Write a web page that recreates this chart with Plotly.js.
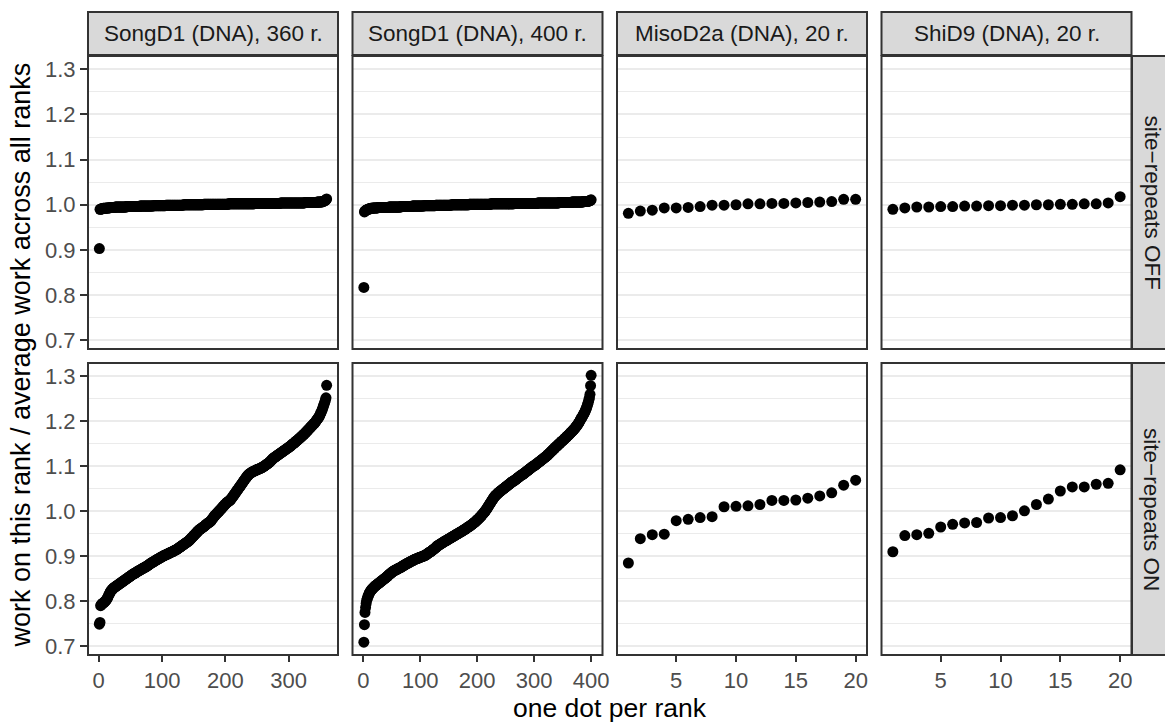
<!DOCTYPE html>
<html>
<head>
<meta charset="utf-8">
<script src="https://cdn.plot.ly/plotly-3.0.1.min.js"></script>
<style>html,body{margin:0;padding:0;background:#fff;}#chart{width:1165px;height:722px;}</style>
</head>
<body>
<div id="chart"></div>
<script>
// ---- data ----
const panelTitles = ["SongD1 (DNA), 360 r.", "SongD1 (DNA), 400 r.", "MisoD2a (DNA), 20 r.", "ShiD9 (DNA), 20 r."];
const rowTitles = ["site\u2212repeats OFF", "site\u2212repeats ON"];
const xTitle = "one dot per rank";
const yTitle = "work on this rank / average work across all ranks";
const xTicks1 = [0, 100, 200, 300];
const xTicks2 = [0, 100, 200, 300, 400];
const xTicks34 = [5, 10, 15, 20];
const yTicks = [0.7, 0.8, 0.9, 1.0, 1.1, 1.2, 1.3];
const yTickText = ["0.7", "0.8", "0.9", "1.0", "1.1", "1.2", "1.3"];

// site-repeats OFF
const songD1_360_off = [
0.903,0.990,0.990,0.991,0.991,0.991,0.992,0.992,0.992,0.992,
0.992,0.993,0.993,0.993,0.993,0.993,0.993,0.994,0.994,0.994,
0.994,0.994,0.994,0.994,0.994,0.995,0.995,0.995,0.995,0.995,
0.995,0.995,0.995,0.995,0.995,0.995,0.995,0.995,0.995,0.995,
0.995,0.995,0.995,0.996,0.996,0.996,0.996,0.996,0.996,0.996,
0.996,0.996,0.996,0.996,0.996,0.996,0.996,0.996,0.996,0.996,
0.996,0.996,0.996,0.996,0.997,0.997,0.997,0.997,0.997,0.997,
0.997,0.997,0.997,0.997,0.997,0.997,0.997,0.997,0.997,0.997,
0.997,0.997,0.997,0.997,0.997,0.998,0.998,0.998,0.998,0.998,
0.998,0.998,0.998,0.998,0.998,0.998,0.998,0.998,0.998,0.998,
0.998,0.998,0.998,0.998,0.998,0.999,0.999,0.999,0.999,0.999,
0.999,0.999,0.999,0.999,0.999,0.999,0.999,0.999,0.999,0.999,
0.999,0.999,0.999,0.999,0.999,0.999,0.999,0.999,0.999,0.999,
0.999,0.999,0.999,1.000,1.000,1.000,1.000,1.000,1.000,1.000,
1.000,1.000,1.000,1.000,1.000,1.000,1.000,1.000,1.000,1.000,
1.000,1.000,1.000,1.000,1.000,1.000,1.000,1.000,1.000,1.000,
1.000,1.000,1.000,1.000,1.000,1.001,1.001,1.001,1.001,1.001,
1.001,1.001,1.001,1.001,1.001,1.001,1.001,1.001,1.001,1.001,
1.001,1.001,1.001,1.001,1.001,1.001,1.001,1.001,1.001,1.001,
1.001,1.001,1.001,1.001,1.001,1.001,1.001,1.001,1.001,1.001,
1.001,1.001,1.001,1.001,1.002,1.002,1.002,1.002,1.002,1.002,
1.002,1.002,1.002,1.002,1.002,1.002,1.002,1.002,1.002,1.002,
1.002,1.002,1.002,1.002,1.002,1.002,1.002,1.002,1.002,1.002,
1.002,1.002,1.002,1.002,1.002,1.002,1.002,1.002,1.002,1.002,
1.002,1.002,1.002,1.002,1.002,1.003,1.003,1.003,1.003,1.003,
1.003,1.003,1.003,1.003,1.003,1.003,1.003,1.003,1.003,1.003,
1.003,1.003,1.003,1.003,1.003,1.003,1.003,1.003,1.003,1.003,
1.003,1.003,1.003,1.003,1.003,1.003,1.003,1.003,1.003,1.003,
1.003,1.003,1.003,1.003,1.003,1.003,1.004,1.004,1.004,1.004,
1.004,1.004,1.004,1.004,1.004,1.004,1.004,1.004,1.004,1.004,
1.004,1.004,1.004,1.004,1.004,1.004,1.004,1.004,1.004,1.004,
1.004,1.004,1.004,1.004,1.004,1.004,1.004,1.004,1.004,1.004,
1.004,1.004,1.004,1.004,1.004,1.005,1.005,1.005,1.005,1.005,
1.005,1.005,1.005,1.005,1.005,1.005,1.005,1.005,1.005,1.005,
1.005,1.005,1.005,1.005,1.006,1.006,1.006,1.006,1.006,1.006,
1.006,1.006,1.007,1.007,1.008,1.008,1.009,1.010,1.011,1.013
];
const songD1_400_off = [
0.817,0.984,0.986,0.987,0.988,0.989,0.989,0.990,0.990,0.991,
0.991,0.991,0.992,0.992,0.992,0.992,0.993,0.993,0.993,0.993,
0.993,0.993,0.993,0.993,0.993,0.994,0.994,0.994,0.994,0.994,
0.994,0.994,0.994,0.994,0.994,0.994,0.994,0.994,0.994,0.994,
0.994,0.994,0.994,0.994,0.995,0.995,0.995,0.995,0.995,0.995,
0.995,0.995,0.995,0.995,0.995,0.995,0.995,0.995,0.995,0.995,
0.995,0.995,0.995,0.995,0.995,0.996,0.996,0.996,0.996,0.996,
0.996,0.996,0.996,0.996,0.996,0.996,0.996,0.996,0.996,0.996,
0.996,0.996,0.996,0.996,0.996,0.997,0.997,0.997,0.997,0.997,
0.997,0.997,0.997,0.997,0.997,0.997,0.997,0.997,0.997,0.997,
0.997,0.997,0.997,0.997,0.997,0.998,0.998,0.998,0.998,0.998,
0.998,0.998,0.998,0.998,0.998,0.998,0.998,0.998,0.998,0.998,
0.998,0.998,0.998,0.998,0.998,0.998,0.999,0.999,0.999,0.999,
0.999,0.999,0.999,0.999,0.999,0.999,0.999,0.999,0.999,0.999,
0.999,0.999,0.999,0.999,0.999,0.999,0.999,0.999,0.999,0.999,
0.999,0.999,0.999,0.999,1.000,1.000,1.000,1.000,1.000,1.000,
1.000,1.000,1.000,1.000,1.000,1.000,1.000,1.000,1.000,1.000,
1.000,1.000,1.000,1.000,1.000,1.000,1.000,1.000,1.000,1.000,
1.000,1.000,1.000,1.000,1.000,1.001,1.001,1.001,1.001,1.001,
1.001,1.001,1.001,1.001,1.001,1.001,1.001,1.001,1.001,1.001,
1.001,1.001,1.001,1.001,1.001,1.001,1.001,1.001,1.001,1.001,
1.001,1.001,1.001,1.001,1.001,1.001,1.001,1.001,1.001,1.001,
1.001,1.001,1.001,1.002,1.002,1.002,1.002,1.002,1.002,1.002,
1.002,1.002,1.002,1.002,1.002,1.002,1.002,1.002,1.002,1.002,
1.002,1.002,1.002,1.002,1.002,1.002,1.002,1.002,1.002,1.002,
1.002,1.002,1.002,1.002,1.002,1.002,1.002,1.002,1.002,1.002,
1.002,1.002,1.002,1.002,1.003,1.003,1.003,1.003,1.003,1.003,
1.003,1.003,1.003,1.003,1.003,1.003,1.003,1.003,1.003,1.003,
1.003,1.003,1.003,1.003,1.003,1.003,1.003,1.003,1.003,1.003,
1.003,1.003,1.003,1.003,1.003,1.003,1.003,1.003,1.003,1.003,
1.003,1.003,1.003,1.003,1.003,1.004,1.004,1.004,1.004,1.004,
1.004,1.004,1.004,1.004,1.004,1.004,1.004,1.004,1.004,1.004,
1.004,1.004,1.004,1.004,1.004,1.004,1.004,1.004,1.004,1.004,
1.004,1.004,1.004,1.004,1.004,1.004,1.004,1.004,1.004,1.004,
1.004,1.004,1.004,1.005,1.005,1.005,1.005,1.005,1.005,1.005,
1.005,1.005,1.005,1.005,1.005,1.005,1.005,1.005,1.005,1.005,
1.005,1.005,1.005,1.005,1.005,1.006,1.006,1.006,1.006,1.006,
1.006,1.006,1.006,1.006,1.006,1.006,1.006,1.006,1.006,1.006,
1.006,1.006,1.006,1.006,1.006,1.007,1.007,1.007,1.007,1.007,
1.007,1.007,1.007,1.008,1.008,1.008,1.009,1.009,1.010,1.011
];
const misoD2a_off = [0.981,0.986,0.988,0.993,0.993,0.994,0.996,0.999,0.999,1.000,1.002,1.002,1.003,1.003,1.004,1.005,1.006,1.007,1.012,1.012];
const shiD9_off = [0.990,0.993,0.995,0.995,0.996,0.996,0.997,0.997,0.998,0.998,0.999,0.999,1.000,1.000,1.001,1.001,1.002,1.002,1.004,1.018];

// site-repeats ON
const songD1_360_on = [
0.749,0.753,0.790,0.792,0.794,0.795,0.796,0.797,0.798,0.800,
0.801,0.803,0.805,0.808,0.811,0.814,0.817,0.820,0.822,0.824,
0.826,0.827,0.829,0.830,0.831,0.832,0.833,0.834,0.835,0.836,
0.837,0.838,0.839,0.840,0.841,0.842,0.843,0.844,0.845,0.846,
0.847,0.848,0.849,0.850,0.851,0.852,0.853,0.854,0.855,0.856,
0.857,0.858,0.859,0.860,0.861,0.862,0.862,0.863,0.864,0.865,
0.866,0.867,0.868,0.868,0.869,0.870,0.871,0.872,0.872,0.873,
0.874,0.875,0.876,0.876,0.877,0.878,0.879,0.880,0.881,0.882,
0.883,0.884,0.885,0.886,0.887,0.887,0.888,0.889,0.890,0.891,
0.892,0.893,0.893,0.894,0.895,0.896,0.897,0.897,0.898,0.899,
0.900,0.901,0.901,0.902,0.903,0.903,0.904,0.905,0.905,0.906,
0.907,0.907,0.908,0.909,0.909,0.910,0.911,0.911,0.912,0.913,
0.914,0.914,0.915,0.916,0.917,0.918,0.919,0.920,0.921,0.922,
0.923,0.924,0.925,0.926,0.927,0.928,0.929,0.930,0.931,0.932,
0.933,0.934,0.935,0.937,0.938,0.940,0.941,0.943,0.944,0.946,
0.947,0.949,0.950,0.952,0.953,0.955,0.956,0.958,0.959,0.960,
0.961,0.962,0.963,0.964,0.965,0.966,0.967,0.968,0.970,0.971,
0.972,0.973,0.974,0.975,0.976,0.977,0.978,0.980,0.982,0.984,
0.986,0.988,0.990,0.991,0.993,0.994,0.996,0.997,0.999,1.000,
1.002,1.003,1.005,1.006,1.008,1.010,1.011,1.013,1.014,1.016,
1.017,1.019,1.020,1.021,1.022,1.023,1.024,1.025,1.027,1.029,
1.031,1.033,1.035,1.037,1.039,1.041,1.043,1.045,1.047,1.049,
1.051,1.053,1.055,1.057,1.059,1.061,1.063,1.065,1.067,1.069,
1.071,1.073,1.075,1.077,1.079,1.080,1.082,1.083,1.084,1.085,
1.086,1.087,1.088,1.088,1.089,1.090,1.090,1.091,1.092,1.092,
1.093,1.093,1.094,1.095,1.095,1.096,1.097,1.097,1.098,1.099,
1.100,1.101,1.102,1.103,1.104,1.105,1.106,1.107,1.108,1.109,
1.111,1.112,1.114,1.115,1.117,1.118,1.119,1.120,1.121,1.122,
1.123,1.124,1.125,1.126,1.127,1.128,1.129,1.130,1.131,1.132,
1.133,1.134,1.135,1.136,1.137,1.138,1.139,1.140,1.141,1.142,
1.143,1.144,1.145,1.146,1.148,1.149,1.150,1.151,1.152,1.153,
1.155,1.156,1.157,1.158,1.159,1.161,1.162,1.163,1.164,1.166,
1.167,1.168,1.170,1.171,1.172,1.174,1.175,1.177,1.178,1.180,
1.181,1.183,1.184,1.186,1.187,1.189,1.190,1.192,1.193,1.195,
1.196,1.198,1.200,1.202,1.204,1.206,1.208,1.210,1.213,1.216,
1.219,1.222,1.226,1.230,1.234,1.238,1.242,1.247,1.252,1.280
];
const songD1_400_on = [
0.709,0.748,0.775,0.786,0.795,0.802,0.806,0.810,0.813,0.816,
0.819,0.821,0.823,0.825,0.826,0.828,0.829,0.830,0.832,0.833,
0.834,0.835,0.836,0.837,0.838,0.839,0.840,0.841,0.842,0.843,
0.844,0.845,0.846,0.847,0.848,0.849,0.850,0.851,0.852,0.853,
0.854,0.855,0.856,0.858,0.859,0.860,0.861,0.862,0.863,0.864,
0.865,0.866,0.867,0.868,0.868,0.869,0.870,0.870,0.871,0.872,
0.872,0.873,0.874,0.874,0.875,0.876,0.876,0.877,0.878,0.879,
0.880,0.880,0.881,0.882,0.883,0.883,0.884,0.885,0.885,0.886,
0.887,0.887,0.888,0.889,0.889,0.890,0.891,0.891,0.892,0.893,
0.893,0.894,0.894,0.895,0.895,0.896,0.896,0.897,0.897,0.898,
0.898,0.899,0.899,0.900,0.900,0.901,0.901,0.902,0.902,0.903,
0.904,0.905,0.906,0.907,0.908,0.909,0.909,0.910,0.911,0.912,
0.913,0.914,0.915,0.916,0.917,0.918,0.919,0.920,0.922,0.923,
0.924,0.924,0.925,0.926,0.927,0.928,0.928,0.929,0.930,0.931,
0.932,0.932,0.933,0.934,0.935,0.935,0.936,0.937,0.938,0.938,
0.939,0.940,0.941,0.941,0.942,0.943,0.944,0.944,0.945,0.946,
0.947,0.947,0.948,0.949,0.950,0.950,0.951,0.952,0.953,0.953,
0.954,0.955,0.956,0.956,0.957,0.958,0.959,0.960,0.960,0.961,
0.962,0.963,0.964,0.965,0.966,0.966,0.967,0.968,0.969,0.970,
0.971,0.972,0.973,0.974,0.975,0.976,0.977,0.978,0.980,0.981,
0.982,0.983,0.984,0.986,0.987,0.988,0.990,0.991,0.993,0.994,
0.996,0.997,0.999,1.000,1.002,1.004,1.006,1.008,1.010,1.012,
1.014,1.016,1.018,1.020,1.022,1.024,1.026,1.028,1.030,1.032,
1.033,1.035,1.036,1.037,1.038,1.040,1.041,1.042,1.043,1.044,
1.045,1.046,1.047,1.048,1.049,1.050,1.051,1.052,1.053,1.054,
1.055,1.056,1.057,1.058,1.059,1.060,1.061,1.062,1.063,1.064,
1.065,1.066,1.067,1.067,1.068,1.069,1.070,1.071,1.072,1.073,
1.074,1.075,1.076,1.077,1.078,1.079,1.080,1.081,1.081,1.082,
1.083,1.084,1.085,1.086,1.087,1.088,1.089,1.090,1.091,1.092,
1.093,1.094,1.095,1.096,1.097,1.098,1.099,1.100,1.101,1.101,
1.102,1.103,1.104,1.105,1.106,1.107,1.108,1.109,1.110,1.111,
1.112,1.113,1.114,1.115,1.116,1.117,1.118,1.119,1.120,1.121,
1.122,1.123,1.124,1.125,1.127,1.128,1.129,1.130,1.132,1.133,
1.134,1.135,1.137,1.138,1.139,1.140,1.142,1.143,1.144,1.145,
1.146,1.148,1.149,1.150,1.151,1.152,1.154,1.155,1.156,1.157,
1.158,1.159,1.161,1.162,1.163,1.164,1.165,1.167,1.168,1.169,
1.170,1.172,1.173,1.174,1.176,1.177,1.178,1.180,1.181,1.182,
1.184,1.185,1.187,1.189,1.190,1.192,1.194,1.196,1.198,1.200,
1.203,1.205,1.207,1.209,1.211,1.214,1.216,1.218,1.221,1.224,
1.227,1.230,1.234,1.238,1.242,1.248,1.252,1.260,1.279,1.302
];
const misoD2a_on = [0.885,0.939,0.948,0.949,0.979,0.982,0.986,0.988,1.010,1.011,1.012,1.015,1.024,1.024,1.025,1.029,1.034,1.041,1.058,1.069];
const shiD9_on = [0.910,0.946,0.948,0.951,0.965,0.971,0.974,0.975,0.985,0.986,0.990,1.001,1.015,1.027,1.045,1.054,1.054,1.060,1.062,1.092];

// ---- layout geometry ----
const W = 1165, H = 722;
const FONT = "Liberation Sans, Arial, Helvetica, sans-serif";
const colPx = [[88, 338], [352.5, 602.5], [617, 867], [881.5, 1131.5]];
const rowPx = [[56, 349], [363, 655]];
const colDom = colPx.map(c => [c[0] / W, c[1] / W]);
const rowDom = rowPx.map(r => [1 - r[1] / H, 1 - r[0] / H]);
const yRange = [0.6805, 1.3295];
const xRanges = [[-16.95, 377.95], [-18.95, 419.95], [0.05, 20.95], [0.05, 20.95]];
const xTickSets = [xTicks1, xTicks2, xTicks34, xTicks34];

const seriesGrid = [
  [songD1_360_off, songD1_400_off, misoD2a_off, shiD9_off],
  [songD1_360_on, songD1_400_on, misoD2a_on, shiD9_on]
];

const traces = [];
const layout = {
  width: W, height: H,
  margin: {l: 0, r: 0, t: 0, b: 0, pad: 0},
  paper_bgcolor: "#FFFFFF", plot_bgcolor: "#FFFFFF",
  showlegend: false,
  font: {family: FONT, color: "#4D4D4D", size: 22},
  shapes: [], annotations: []
};

for (let r = 0; r < 2; r++) {
  for (let c = 0; c < 4; c++) {
    const idx = r * 4 + c + 1;
    const xa = idx === 1 ? "x" : "x" + idx;
    const ya = idx === 1 ? "y" : "y" + idx;
    const ys = seriesGrid[r][c];
    traces.push({
      type: "scatter", mode: "markers",
      x: ys.map((v, i) => i + 1), y: ys,
      xaxis: xa, yaxis: ya,
      marker: {color: "#000000", size: 11, line: {width: 0}},
      hoverinfo: "x+y", cliponaxis: false
    });
    const bottom = r === 1;
    layout["xaxis" + (idx === 1 ? "" : idx)] = {
      domain: colDom[c], anchor: ya, range: xRanges[c],
      showgrid: false, zeroline: false, showline: false,
      tickmode: "array", tickvals: xTickSets[c], ticktext: xTickSets[c].map(String),
      ticks: bottom ? "outside" : "", ticklen: 6, tickwidth: 2, tickcolor: "#333333",
      showticklabels: bottom,
      tickfont: {family: FONT, size: 22, color: "#4D4D4D"},
      fixedrange: true
    };
    layout["yaxis" + (idx === 1 ? "" : idx)] = {
      domain: rowDom[r], anchor: xa, range: yRange,
      showgrid: true, gridcolor: "#EBEBEB", gridwidth: 2,
      zeroline: false, showline: false,
      tickmode: "array", tickvals: yTicks, ticktext: yTickText,
      minor: {tickvals: [0.75, 0.85, 0.95, 1.05, 1.15, 1.25], showgrid: true, gridcolor: "#EBEBEB", gridwidth: 1, ticks: ""},
      ticks: c === 0 ? "outside" : "", ticklen: 7, tickwidth: 2, tickcolor: "#333333",
      showticklabels: c === 0,
      tickfont: {family: FONT, size: 22, color: "#4D4D4D"},
      fixedrange: true
    };
    // panel border
    layout.shapes.push({
      type: "rect", xref: "paper", yref: "paper",
      x0: colDom[c][0], x1: colDom[c][1], y0: rowDom[r][0], y1: rowDom[r][1],
      line: {color: "#333333", width: 2}, fillcolor: "rgba(0,0,0,0)", layer: "above"
    });
  }
}

// top strips
const topStripY = [1 - 55 / H, 1 - 12 / H];
for (let c = 0; c < 4; c++) {
  layout.shapes.push({
    type: "rect", xref: "paper", yref: "paper",
    x0: colDom[c][0], x1: colDom[c][1], y0: topStripY[0], y1: topStripY[1],
    line: {color: "#333333", width: 2}, fillcolor: "#D9D9D9", layer: "above"
  });
  layout.annotations.push({
    xref: "paper", yref: "paper",
    x: (colDom[c][0] + colDom[c][1]) / 2, y: (topStripY[0] + topStripY[1]) / 2,
    xanchor: "center", yanchor: "middle", showarrow: false,
    text: panelTitles[c], font: {family: FONT, size: 22.5, color: "#1A1A1A"}
  });
}
// right strips
for (let r = 0; r < 2; r++) {
  layout.shapes.push({
    type: "rect", xref: "paper", yref: "paper",
    x0: 1132 / W, x1: 1200 / W, y0: rowDom[r][0], y1: rowDom[r][1],
    line: {color: "#333333", width: 2}, fillcolor: "#D9D9D9", layer: "above"
  });
  layout.annotations.push({
    xref: "paper", yref: "paper",
    x: 1152 / W, y: (rowDom[r][0] + rowDom[r][1]) / 2,
    xanchor: "center", yanchor: "middle", showarrow: false, textangle: 90,
    text: rowTitles[r], font: {family: FONT, size: 22.5, color: "#1A1A1A"}
  });
}
// axis titles
layout.annotations.push({
  xref: "paper", yref: "paper", x: 609.5 / W, y: 1 - 708 / H,
  xanchor: "center", yanchor: "middle", showarrow: false,
  text: xTitle, font: {family: FONT, size: 26.5, color: "#000000"}
});
layout.annotations.push({
  xref: "paper", yref: "paper", x: 20 / W, y: 1 - 355.5 / H,
  xanchor: "center", yanchor: "middle", showarrow: false, textangle: -90,
  text: yTitle, font: {family: FONT, size: 27, color: "#000000"}
});

Plotly.newPlot("chart", traces, layout, {displayModeBar: false, staticPlot: true});
</script>
</body>
</html>
